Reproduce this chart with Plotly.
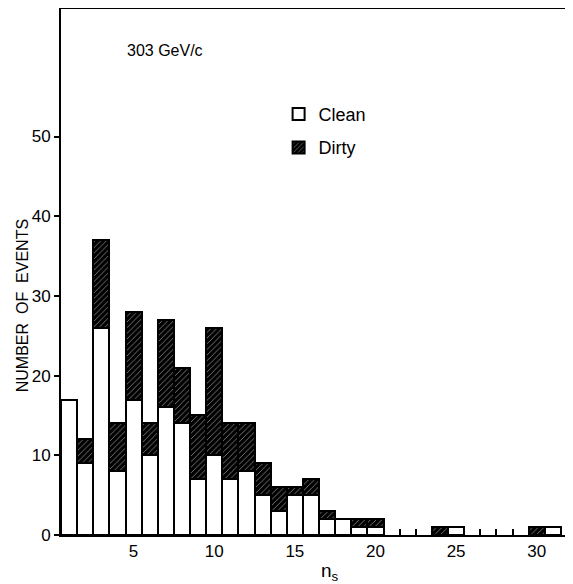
import plotly.graph_objects as go

# ---- data ----
bins = list(range(1, 32))  # n_s bin centres 1..31
clean = [17, 9, 26, 8, 17, 10, 16, 14, 7, 10, 7, 8, 5, 3, 5, 5, 2, 2, 1, 1,
         0, 0, 0, 0, 1, 0, 0, 0, 0, 0, 1]
dirty = [0, 3, 11, 6, 11, 4, 11, 7, 8, 16, 7, 6, 4, 3, 1, 2, 1, 0, 1, 1,
         0, 0, 0, 1, 0, 0, 0, 0, 0, 1, 0]
x_ticks = [5, 10, 15, 20, 25, 30]
y_ticks = [0, 10, 20, 30, 40, 50]
energy_label = "303 GeV/c"

def nz(v):
    return [a if a else None for a in v]

FONT = "Liberation Sans"
fig = go.Figure()
fig.add_trace(go.Bar(
    x=bins, y=nz(clean), name="Clean", width=1.0, legendgroup="c",
    marker=dict(color="white", line=dict(color="black", width=2)),
))
fig.add_trace(go.Bar(
    x=bins, y=nz(dirty), name="Dirty", width=1.0, legendgroup="d",
    marker=dict(color="black", line=dict(color="black", width=2),
                pattern=dict(shape="/", fgcolor="white", bgcolor="black",
                             size=4, solidity=0.22)),
))

edges = [b + 0.5 for b in bins]

# page body has an 8px margin, so the figure is sized/offset to compensate
fig.update_layout(
    width=565, height=576,
    margin=dict(l=53, r=0, t=1, b=49),
    paper_bgcolor="white", plot_bgcolor="white",
    barmode="stack", bargap=0,
    font=dict(family=FONT, color="black", size=16),
    showlegend=True,
    legend=dict(x=0.425, y=0.835, xanchor="left", yanchor="top",
                font=dict(size=18, family=FONT), traceorder="grouped",
                tracegroupgap=7, bgcolor="rgba(0,0,0,0)"),
    xaxis=dict(range=[0.5, 32.25], tickmode="array", tickvals=x_ticks,
               ticks="", showline=True, linecolor="black", linewidth=2,
               mirror=True, showgrid=False, zeroline=False,
               tickfont=dict(size=17, family=FONT),
               minor=dict(tickmode="array", tickvals=edges, ticks="inside",
                          ticklen=6, tickwidth=1.5, tickcolor="black",
                          showgrid=False)),
    yaxis=dict(range=[0, 66], tickmode="array", tickvals=y_ticks,
               ticks="outside", ticklen=5, tickwidth=2, tickcolor="black",
               showline=True, linecolor="black", linewidth=2,
               showgrid=False, zeroline=False,
               tickfont=dict(size=17, family=FONT)),
    annotations=[
        dict(text="NUMBER  OF  EVENTS", textangle=-90, xref="paper", yref="paper",
             x=-0.076, y=0.435, xanchor="center", yanchor="middle",
             showarrow=False, font=dict(size=16, family=FONT)),
        dict(text="n<sub>s</sub>", xref="paper", yref="paper",
             x=0.525, y=-0.07, xanchor="center", yanchor="middle",
             showarrow=False, font=dict(size=19, family=FONT)),
        dict(text=energy_label, xref="paper", yref="paper", x=0.125, y=0.922,
             xanchor="left", yanchor="middle", showarrow=False,
             font=dict(size=16, family=FONT)),
    ],
)

fig.write_html("out.html")
